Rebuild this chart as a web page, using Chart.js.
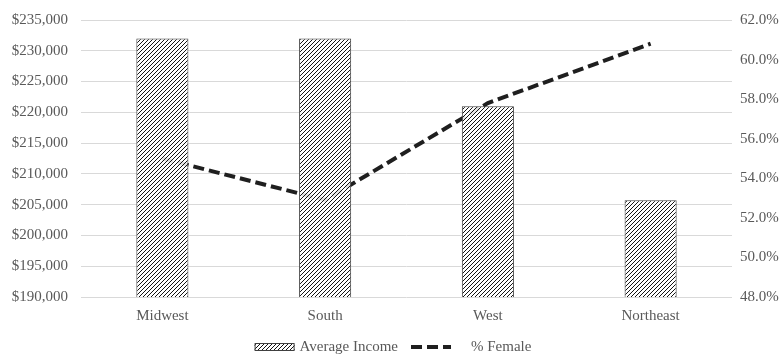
<!DOCTYPE html>
<html>
<head>
<meta charset="utf-8">
<script src="https://cdn.jsdelivr.net/npm/chart.js@4.4.1/dist/chart.umd.min.js"></script>
<style>
  html, body { margin: 0; padding: 0; background: #ffffff; }
  #wrap { width: 781px; height: 355px; position: relative; }
</style>
</head>
<body>
<div id="wrap"><canvas id="chart" width="781" height="355"></canvas></div>
<script>
// Regions and their figures
const regions = ['Midwest', 'South', 'West', 'Northeast'];
const averageIncome = [232000, 232000, 221000, 205700];
const percentFemale = [55.0, 52.9, 57.8, 60.8];

// Axis ranges
const incomeAxis = { min: 190000, max: 235000, step: 5000 };
const femaleAxis = { min: 48, max: 62, step: 2 };

const seriesNames = ['Average Income', '% Female'];

const FONT = "'Liberation Serif', 'Times New Roman', serif";
const FONT_SIZE = 15;
const TEXT = '#595959';
const LINE_DASH = [11, 5];

// Diagonal hatch fill for the bars
function makeHatch() {
  const s = 4;
  const c = document.createElement('canvas');
  c.width = s; c.height = s;
  const g = c.getContext('2d');
  g.fillStyle = 'rgba(255,255,255,0.88)';
  g.fillRect(0, 0, s, s);
  g.strokeStyle = '#141414';
  g.lineWidth = 1;
  g.beginPath();
  g.moveTo(0, s); g.lineTo(s, 0);
  g.moveTo(-1, 1); g.lineTo(1, -1);
  g.moveTo(s - 1, s + 1); g.lineTo(s + 1, s - 1);
  g.stroke();
  return g.createPattern(c, 'repeat');
}
const hatch = makeHatch();

const fmtMoney = v => '$' + Number(v).toLocaleString('en-US');
const fmtPct = v => Number(v).toFixed(1) + '%';

// Legend drawn below the x axis labels
const bottomLegend = {
  id: 'bottomLegend',
  afterDraw(chart) {
    const ctx = chart.ctx;
    ctx.save();
    ctx.font = FONT_SIZE + 'px ' + FONT;
    ctx.textBaseline = 'middle';
    const y = 347;
    const w1 = ctx.measureText(seriesNames[0]).width;
    const w2 = ctx.measureText(seriesNames[1]).width;
    const total = 40 + 5 + w1 + 13 + 40 + 20 + w2;
    let x = 393 - total / 2;
    // bar symbol
    ctx.fillStyle = hatch;
    ctx.fillRect(x, y - 4, 40, 8);
    ctx.strokeStyle = '#404040';
    ctx.lineWidth = 1;
    ctx.strokeRect(x + 0.5, y - 4 + 0.5, 39, 7);
    x += 45;
    ctx.fillStyle = TEXT;
    ctx.fillText(seriesNames[0], x, y);
    x += w1 + 13;
    // line symbol
    ctx.strokeStyle = '#1f1f1f';
    ctx.lineWidth = 4;
    ctx.setLineDash(LINE_DASH);
    ctx.beginPath();
    ctx.moveTo(x, y); ctx.lineTo(x + 40, y);
    ctx.stroke();
    ctx.setLineDash([]);
    x += 60;
    ctx.fillText(seriesNames[1], x, y);
    ctx.restore();
  }
};

new Chart(document.getElementById('chart'), {
  data: {
    labels: regions,
    datasets: [
      {
        type: 'bar',
        label: seriesNames[0],
        data: averageIncome,
        yAxisID: 'y',
        backgroundColor: hatch,
        borderColor: '#404040',
        borderWidth: 1,
        categoryPercentage: 1,
        barPercentage: 0.32,
        order: 1
      },
      {
        type: 'line',
        label: seriesNames[1],
        data: percentFemale,
        yAxisID: 'y1',
        borderColor: '#1f1f1f',
        borderWidth: 4,
        borderDash: LINE_DASH,
        pointRadius: 0,
        tension: 0,
        fill: false,
        order: 2
      }
    ]
  },
  options: {
    responsive: false,
    devicePixelRatio: 1,
    animation: false,
    layout: { padding: { top: 20, bottom: 28, left: 0, right: 0 } },
    plugins: {
      legend: { display: false },
      tooltip: { enabled: false }
    },
    scales: {
      x: {
        offset: true,
        grid: { display: false, drawTicks: false },
        border: { display: false },
        ticks: { color: TEXT, font: { family: FONT, size: FONT_SIZE }, padding: 10 },
        afterFit(s) { s.height = 30; s.paddingLeft = 0; s.paddingRight = 0; }
      },
      y: {
        position: 'left',
        min: incomeAxis.min, max: incomeAxis.max,
        grid: { color: '#d9d9d9', lineWidth: 1, drawTicks: false },
        border: { display: false },
        ticks: {
          stepSize: incomeAxis.step,
          color: TEXT, font: { family: FONT, size: FONT_SIZE }, padding: 13,
          callback: fmtMoney
        },
        afterFit(s) { s.width = 81; s.paddingTop = 0; s.paddingBottom = 0; }
      },
      y1: {
        position: 'right',
        min: femaleAxis.min, max: femaleAxis.max,
        grid: { display: false, drawTicks: false },
        border: { display: false },
        ticks: {
          stepSize: femaleAxis.step,
          color: TEXT, font: { family: FONT, size: FONT_SIZE }, padding: 8,
          callback: fmtPct
        },
        afterFit(s) { s.width = 49; s.paddingTop = 0; s.paddingBottom = 0; }
      }
    }
  },
  plugins: [bottomLegend]
});
</script>
</body>
</html>
